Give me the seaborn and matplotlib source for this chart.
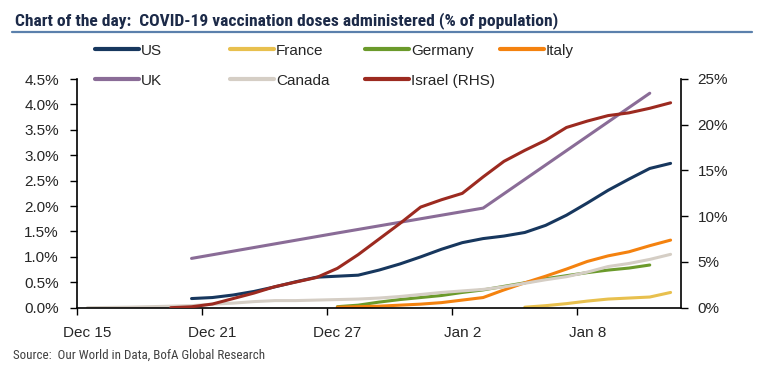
import os
import numpy as np
import pandas as pd
import matplotlib
matplotlib.use('Agg')
import matplotlib.pyplot as plt
import matplotlib.font_manager as fm
from matplotlib.font_manager import FontProperties
from matplotlib.lines import Line2D
import seaborn as sns

nan = np.nan

# daily axis, Dec 15 2020 - Jan 12 2021
dates = pd.date_range('2020-12-15', '2021-01-12', freq='D')
xtick_labels = ['Dec 15', 'Dec 21', 'Dec 27', 'Jan 2', 'Jan 8']
xtick_dates = ['2020-12-15', '2020-12-21', '2020-12-27', '2021-01-02', '2021-01-08']

# doses administered, % of population
#                 Dec15 ............................ Dec31 | Jan1 ............................ Jan12
us      = [nan, nan, nan, nan, nan, 0.18, 0.20, 0.25, 0.32, 0.41, 0.51, 0.60, 0.62, 0.64, 0.74, 0.86, 1.00,
           1.15, 1.28, 1.36, 1.41, 1.48, 1.62, 1.82, 2.06, 2.31, 2.53, 2.74, 2.84]
france  = [nan, nan, nan, nan, nan, nan, nan, nan, nan, nan, nan, nan, nan, nan, nan, nan, nan,
           nan, nan, nan, nan, 0.01, 0.04, 0.08, 0.13, 0.17, 0.19, 0.21, 0.30]
germany = [nan, nan, nan, nan, nan, nan, nan, nan, nan, nan, nan, nan, 0.02, 0.05, 0.11, 0.16, 0.20,
           0.24, 0.30, 0.35, 0.42, 0.49, 0.57, 0.63, 0.69, 0.74, 0.78, 0.84, nan]
italy   = [nan, nan, nan, nan, nan, nan, nan, nan, nan, nan, nan, nan, 0.01, 0.02, 0.03, 0.05, 0.07,
           0.10, 0.15, 0.20, 0.35, 0.49, 0.62, 0.76, 0.91, 1.02, 1.10, 1.22, 1.33]
uk      = [nan, nan, nan, nan, nan, 0.97, nan, nan, nan, nan, nan, nan, 1.47, nan, nan, nan, nan,
           nan, nan, 1.96, nan, nan, nan, nan, nan, nan, nan, 4.22, nan]
canada  = [0.00, 0.005, 0.01, 0.02, 0.03, 0.04, 0.07, 0.09, 0.12, 0.14, 0.14, 0.15, 0.16, 0.17, 0.19, 0.22, 0.26,
           0.30, 0.33, 0.36, 0.41, 0.48, 0.55, 0.61, 0.70, 0.81, 0.87, 0.95, 1.05]
# right-hand scale
israel  = [nan, nan, nan, nan, 0.0, 0.1, 0.4, 1.0, 1.6, 2.3, 2.8, 3.3, 4.3, 5.8, 7.5, 9.2, 11.0,
           11.8, 12.5, 14.3, 16.0, 17.2, 18.3, 19.7, 20.4, 21.0, 21.3, 21.8, 22.4]

left_series = {'US': us, 'France': france, 'Germany': germany, 'Italy': italy,
               'UK': uk, 'Canada': canada}
colors = {'US': '#17375e', 'France': '#e8c04e', 'Germany': '#6b9a2b', 'Italy': '#f4820f',
          'UK': '#8a6c97', 'Canada': '#d5cec5', 'Israel (RHS)': '#9c2a20'}


def pick_font(names):
    files = {os.path.basename(f.fname).lower(): f.fname for f in fm.fontManager.ttflist}
    for n in names:
        if n.lower() in files:
            return files[n.lower()]
    return None


# narrow faces if the box has them, else plain Liberation Sans
narrow_bold = pick_font(['LiberationSansNarrow-Bold.ttf', 'NotoSans-CondensedBold.ttf',
                         'RobotoCondensed-Bold.ttf', 'OpenSansCondensed-Bold.ttf'])
narrow_reg = pick_font(['LiberationSansNarrow-Regular.ttf', 'NotoSans-Condensed.ttf',
                        'RobotoCondensed-Regular.ttf', 'OpenSansCondensed-Light.ttf'])

sns.set_style('ticks')
plt.rcParams['font.family'] = ['Liberation Sans', 'DejaVu Sans']

if narrow_bold:
    title_fp = FontProperties(fname=narrow_bold, size=12.6)
else:
    title_fp = FontProperties(family='Liberation Sans', weight='bold', size=10.5)
if narrow_reg:
    source_fp = FontProperties(fname=narrow_reg, size=9.4)
else:
    source_fp = FontProperties(family='Liberation Sans', size=8.1)

day = np.arange(len(dates))
frames = []
for name, vals in left_series.items():
    frames.append(pd.DataFrame({'day': day, 'value': vals, 'country': name}))
df = pd.concat(frames).dropna()
df_isr = pd.DataFrame({'day': day, 'value': israel}).dropna()

fig = plt.figure(figsize=(7.57, 3.68), dpi=100)
ax = fig.add_axes([77 / 757, 1 - 307.7 / 368, 604 / 757, 228.7 / 368])
ax2 = ax.twinx()

sns.lineplot(data=df, x='day', y='value', hue='country', palette=colors,
             hue_order=list(left_series.keys()), linewidth=2.2, legend=False, ax=ax)
sns.lineplot(data=df_isr, x='day', y='value', color=colors['Israel (RHS)'],
             linewidth=2.2, legend=False, ax=ax2)

ax.set_xlim(-0.5, len(dates) - 0.5)
ax.set_ylim(0, 4.5)
ax2.set_ylim(0, 25)
for a in (ax, ax2):
    a.set_xlabel('')
    a.set_ylabel('')

ax.set_yticks(np.arange(0, 4.51, 0.5))
ax.set_yticklabels([f'{v:.1f}%' for v in np.arange(0, 4.51, 0.5)])
ax2.set_yticks(np.arange(0, 26, 5))
ax2.set_yticklabels([f'{v}%' for v in range(0, 26, 5)])

# ticks sit between days, labels sit on the day
label_pos = [dates.get_loc(pd.Timestamp(d)) for d in xtick_dates]
ax.set_xticks([p - 0.5 for p in label_pos])
ax.set_xticklabels([])
ax.set_xticks(label_pos, minor=True)
ax.set_xticklabels(xtick_labels, minor=True)

ax.tick_params(axis='x', which='major', length=5, width=1, direction='out', color='black')
ax.tick_params(axis='x', which='minor', length=0, pad=13, labelsize=11)
ax.tick_params(axis='y', length=5, width=1, direction='out', pad=8, labelsize=11, color='black')
ax2.tick_params(axis='y', length=5, width=1, direction='out', pad=7, labelsize=11, color='black')

for s in ('top', 'right'):
    ax.spines[s].set_visible(False)
for s in ('top', 'left', 'bottom'):
    ax2.spines[s].set_visible(False)
for s in ('left', 'bottom'):
    ax.spines[s].set_color('black')
    ax.spines[s].set_linewidth(1.2)
ax2.spines['right'].set_color('black')
ax2.spines['right'].set_linewidth(1.2)

# title and rule
fig.text(15 / 757, 1 - 21 / 368, 'Chart of the day:  COVID-19 vaccination doses administered (% of population)',
         fontproperties=title_fp, color='#1c2a48', va='center', ha='left')
fig.add_artist(Line2D([12 / 757, 752 / 757], [1 - 32 / 368, 1 - 32 / 368], color='#5b80ac', lw=1.6))

# legend, two rows laid out like the original
legend_items = [('US', 95, 50.7), ('France', 230, 50.7), ('Germany', 365, 50.7), ('Italy', 500, 50.7),
                ('UK', 95, 80.7), ('Canada', 230, 80.7), ('Israel (RHS)', 365, 80.7)]
for name, px, py in legend_items:
    h = Line2D([], [], color=colors[name], lw=3)
    fig.legend(handles=[h], labels=[name], loc='center left',
               bbox_to_anchor=(px / 757, 1 - py / 368), frameon=False,
               handlelength=2.9, handletextpad=0.1, borderpad=0, borderaxespad=0,
               fontsize=11)

fig.text(12.7 / 757, 1 - 355.7 / 368, 'Source:  Our World in Data, BofA Global Research',
         fontproperties=source_fp, color='#404040', va='center', ha='left')

fig.savefig('out.png', dpi=100)
